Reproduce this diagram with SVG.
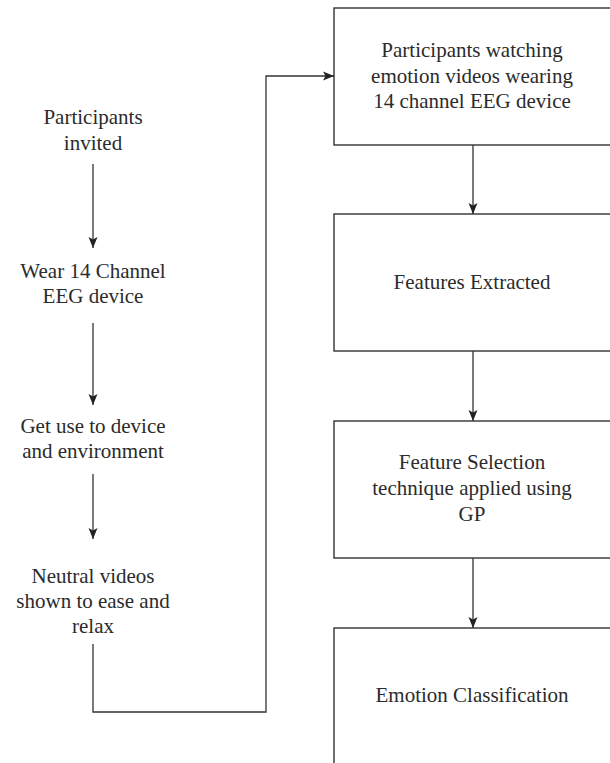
<svg xmlns="http://www.w3.org/2000/svg" width="610" height="763" viewBox="0 0 610 763">
<defs>
<style>
.t{font-family:"Liberation Serif","Times New Roman",serif;font-size:21px;fill:#2b2b2b;text-anchor:middle}
.box{fill:none;stroke:#333;stroke-width:1.4}
.c{fill:none;stroke:#333;stroke-width:1.3}
</style>
<marker id="ah" markerUnits="userSpaceOnUse" markerWidth="11" markerHeight="11" viewBox="0 0 11 11" refX="11" refY="5.5" orient="auto">
<path d="M0,1 L11,5.5 L0,10 L2.5,5.5 Z" fill="#222"/>
</marker>
</defs>
<rect width="610" height="763" fill="#fff"/>
<g id="n1"><text class="t" x="93" y="124">Participants</text><text class="t" x="93" y="150">invited</text></g>
<g id="n2"><text class="t" x="93" y="278">Wear 14 Channel</text><text class="t" x="93" y="303">EEG device</text></g>
<g id="n3"><text class="t" x="93" y="433">Get use to device</text><text class="t" x="93" y="458">and environment</text></g>
<g id="n4"><text class="t" x="93" y="583">Neutral videos</text><text class="t" x="93" y="608">shown to ease and</text><text class="t" x="93" y="633">relax</text></g>
<g id="b1"><rect class="box" x="334" y="8" width="290" height="137"/><text class="t" x="472" y="57">Participants watching</text><text class="t" x="472" y="83">emotion videos wearing</text><text class="t" x="472" y="108">14 channel EEG device</text></g>
<g id="b2"><rect class="box" x="334" y="214" width="290" height="137"/><text class="t" x="472" y="289">Features Extracted</text></g>
<g id="b3"><rect class="box" x="334" y="421" width="290" height="137"/><text class="t" x="472" y="469">Feature Selection</text><text class="t" x="472" y="495">technique applied using</text><text class="t" x="472" y="521">GP</text></g>
<g id="b4"><rect class="box" x="334" y="628" width="290" height="160"/><text class="t" x="472" y="702">Emotion Classification</text></g>
<g id="connectors">
<path class="c" d="M93,164 V248" marker-end="url(#ah)"/>
<path class="c" d="M93,323 V405" marker-end="url(#ah)"/>
<path class="c" d="M93,474 V539" marker-end="url(#ah)"/>
<path class="c" d="M93,644 V712 H266 V76 H334" marker-end="url(#ah)"/>
<path class="c" d="M473,145 V214" marker-end="url(#ah)"/>
<path class="c" d="M473,351 V421" marker-end="url(#ah)"/>
<path class="c" d="M473,558 V628" marker-end="url(#ah)"/>
</g>
</svg>
